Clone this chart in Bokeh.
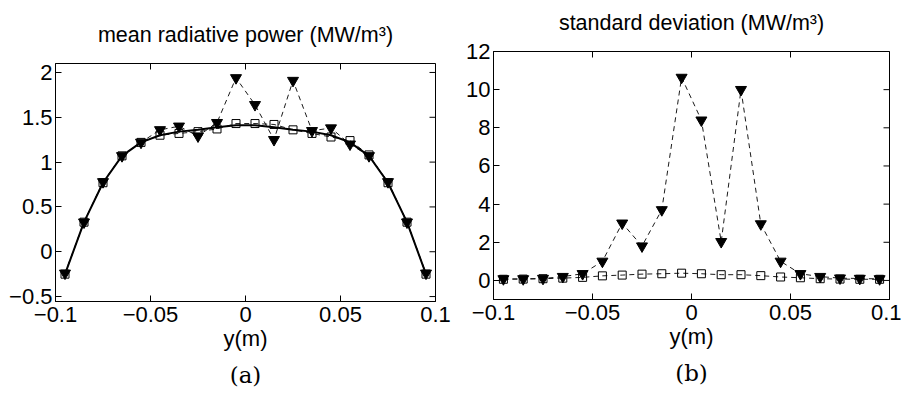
import math
from bokeh.plotting import figure
from bokeh.layouts import row
from bokeh.models import FixedTicker, Range1d, Title
from bokeh.embed import file_html
from bokeh.resources import INLINE

# ---- data ----
y_m = [-0.095, -0.085, -0.075, -0.065, -0.055, -0.045, -0.035, -0.025, -0.015, -0.005,
       0.005, 0.015, 0.025, 0.035, 0.045, 0.055, 0.065, 0.075, 0.085, 0.095]

mean_ref = [-0.25, 0.33, 0.77, 1.07, 1.22, 1.30, 1.34, 1.36, 1.39, 1.41,
            1.41, 1.39, 1.36, 1.34, 1.30, 1.22, 1.07, 0.77, 0.33, -0.25]
mean_sq = [-0.25, 0.33, 0.77, 1.07, 1.22, 1.30, 1.32, 1.34, 1.37, 1.43,
           1.43, 1.42, 1.36, 1.32, 1.28, 1.24, 1.08, 0.77, 0.33, -0.25]
mean_tri = [-0.24, 0.33, 0.78, 1.07, 1.22, 1.36, 1.40, 1.29, 1.44, 1.94,
            1.64, 1.25, 1.91, 1.35, 1.38, 1.20, 1.07, 0.78, 0.33, -0.24]

std_sq = [0.06, 0.07, 0.09, 0.12, 0.16, 0.24, 0.28, 0.33, 0.35, 0.38,
          0.35, 0.30, 0.30, 0.25, 0.18, 0.14, 0.09, 0.07, 0.06, 0.06]
std_tri = [0.08, 0.08, 0.10, 0.20, 0.35, 1.00, 3.00, 1.80, 3.70, 10.64,
           8.40, 2.03, 10.00, 2.96, 1.00, 0.35, 0.20, 0.12, 0.10, 0.08]

x_ticks = [-0.1, -0.05, 0, 0.05, 0.1]
x_tick_labels = ["\u22120.1", "\u22120.05", "0", "0.05", "0.1"]
left_y_ticks = [-0.5, 0, 0.5, 1, 1.5, 2]
left_y_tick_labels = ["\u22120.5", "0", "0.5", "1", "1.5", "2"]
right_y_ticks = [0, 2, 4, 6, 8, 10, 12]
right_y_tick_labels = ["0", "2", "4", "6", "8", "10", "12"]

x_lim = (-0.1, 0.1)
left_y_lim = (-0.555, 2.1)
right_y_lim = (-1, 12)

FONT = "Liberation Sans"
TICK_FS = "22px"


def style_axes(p, xt, xl, yt, yl, xlim, ylim):
    for ax in p.xaxis + p.yaxis:
        ax.axis_line_color = "black"
        ax.major_tick_line_color = "black"
        ax.major_tick_in = 6
        ax.major_tick_out = 0
        ax.minor_tick_line_color = None
        ax.major_label_text_font = FONT
        ax.major_label_text_font_size = TICK_FS
        ax.major_label_text_color = "black"
        ax.axis_label_text_font = FONT
        ax.axis_label_text_font_size = TICK_FS
        ax.axis_label_text_font_style = "normal"
        ax.axis_label_text_color = "black"
    p.xaxis.ticker = FixedTicker(ticks=xt)
    p.xaxis.major_label_overrides = {t: l for t, l in zip(xt, xl)}
    p.yaxis.ticker = FixedTicker(ticks=yt)
    p.yaxis.major_label_overrides = {t: l for t, l in zip(yt, yl)}
    p.xaxis.major_label_standoff = 5
    p.yaxis.major_label_standoff = 3
    p.xaxis.axis_label = "y(m)"
    p.xaxis.axis_label_standoff = 1
    p.xgrid.grid_line_color = None
    p.ygrid.grid_line_color = None
    p.outline_line_color = "black"
    p.outline_line_width = 1
    p.background_fill_color = "white"
    p.border_fill_color = "white"
    # mirrored inward ticks on top and right edges (clipped to the frame)
    p.scatter(xt, [ylim[1]] * len(xt), marker="dash", size=12, angle=math.pi / 2,
              line_color="black", line_width=1)
    p.scatter([xlim[1]] * len(yt), yt, marker="dash", size=12,
              line_color="black", line_width=1)


def make_title(p, text):
    p.title.text = text
    p.title.align = "center"
    p.title.text_font = FONT
    p.title.text_font_size = "21.5px"
    p.title.text_font_style = "normal"
    p.title.text_color = "black"
    p.title.standoff = 33


def add_caption(p, text):
    t = Title(text=text, align="center", text_font="DejaVu Serif", text_font_size="23px",
              text_font_style="normal", text_color="black", standoff=12)
    p.add_layout(t, "below")


# ---- left panel ----
p1 = figure(frame_width=380, frame_height=238, min_border_left=55, min_border_top=63,
            min_border_right=25, min_border_bottom=94,
            x_range=Range1d(*x_lim), y_range=Range1d(*left_y_lim),
            output_backend="svg", toolbar_location=None)
make_title(p1, "mean radiative power (MW/m\u00b3)")
style_axes(p1, x_ticks, x_tick_labels, left_y_ticks, left_y_tick_labels, x_lim, left_y_lim)
add_caption(p1, "(a)")

p1.line(y_m, mean_ref, line_color="black", line_width=2)
p1.line(y_m, mean_sq, line_color="black", line_width=0.9, line_dash="5 4")
p1.scatter(y_m, mean_sq, marker="square", size=8, fill_color=None,
           line_color="black", line_width=1)
p1.line(y_m, mean_tri, line_color="black", line_width=0.9, line_dash="5 4")
p1.scatter(y_m, mean_tri, marker="inverted_triangle", size=11, fill_color="black",
           line_color="black")

# ---- right panel ----
p2 = figure(frame_width=396, frame_height=248, min_border_left=33, min_border_top=63,
            min_border_right=12, min_border_bottom=94,
            x_range=Range1d(*x_lim), y_range=Range1d(*right_y_lim),
            output_backend="svg", toolbar_location=None)
p2.margin = (-12, 0, 0, 0)
make_title(p2, "standard deviation (MW/m\u00b3)")
style_axes(p2, x_ticks, x_tick_labels, right_y_ticks, right_y_tick_labels, x_lim, right_y_lim)
add_caption(p2, "(b)")

p2.line(y_m, std_sq, line_color="black", line_width=0.9, line_dash="5 4")
p2.scatter(y_m, std_sq, marker="square", size=8, fill_color=None,
           line_color="black", line_width=1)
p2.line(y_m, std_tri, line_color="black", line_width=0.9, line_dash="5 4")
p2.scatter(y_m, std_tri, marker="inverted_triangle", size=11, fill_color="black",
           line_color="black")

layout = row(p1, p2)
open("out.html", "w").write(file_html(layout, INLINE))
